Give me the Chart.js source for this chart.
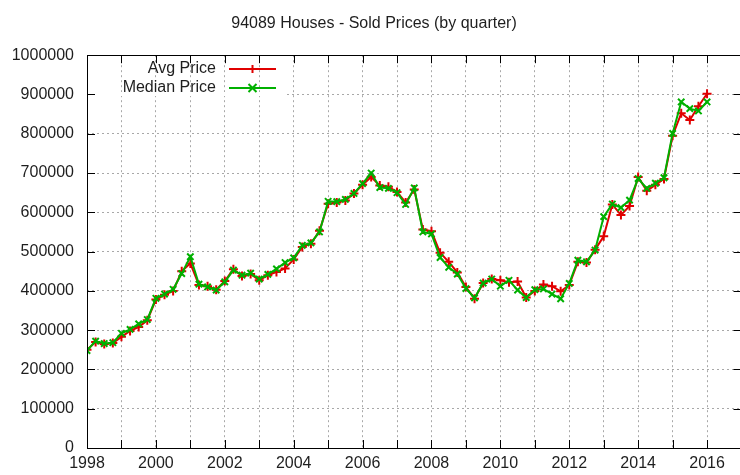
<!DOCTYPE html>
<html>
<head>
<meta charset="utf-8">
<title>94089 Houses - Sold Prices</title>
<script src="https://cdn.jsdelivr.net/npm/chart.js@4.4.1/dist/chart.umd.min.js"></script>
<style>
    html, body { margin: 0; padding: 0; background: #ffffff; overflow: hidden; }
    #wrap { width: 740px; height: 475px; position: relative; overflow: hidden; }
</style>
</head>
<body>
<div id="wrap"><canvas id="priceChart" width="748" height="475"></canvas></div>
<script>
// quarterly sales, first quarter of 1998 through first quarter of 2016
const firstYear = 1998;
const avgPrice = [
    250000, 270000, 265000, 267000, 283000, 298000, 308000, 325000,
    378000, 390000, 400000, 450000, 470000, 415000, 412000, 403000,
    425000, 455000, 438000, 443000, 427000, 440000, 448000, 457000,
    480000, 512000, 520000, 553000, 622000, 625000, 630000, 648000,
    670000, 690000, 668000, 665000, 652000, 625000, 658000, 556000,
    552000, 497000, 474000, 447000, 410000, 380000, 420000, 430000,
    427000, 422000, 424000, 383000, 400000, 416000, 412000, 399000,
    415000, 474000, 472000, 505000, 539000, 620000, 593000, 616000,
    690000, 655000, 670000, 685000, 795000, 852000, 835000, 870000,
    902000
];
const medianPrice = [
    248000, 272000, 266000, 268000, 292000, 302000, 316000, 327000,
    381000, 392000, 404000, 444000, 487000, 417000, 410000, 402000,
    423000, 453000, 440000, 445000, 430000, 442000, 456000, 472000,
    484000, 516000, 522000, 550000, 628000, 627000, 633000, 648000,
    673000, 700000, 663000, 661000, 650000, 620000, 662000, 550000,
    545000, 485000, 460000, 443000, 406000, 382000, 420000, 430000,
    412000, 427000, 402000, 383000, 403000, 405000, 392000, 380000,
    419000, 478000, 474000, 504000, 589000, 621000, 612000, 631000,
    686000, 661000, 674000, 688000, 801000, 881000, 864000, 858000,
    881000
];
const seriesNames = ["Avg Price", "Median Price"];
const xRange = [1998, 2017];
const yTicks = [0, 100000, 200000, 300000, 400000, 500000, 600000, 700000, 800000, 900000, 1000000];

const FONT = "'Liberation Sans', Arial, sans-serif";
const TEXT = "#1e1e1e";
const RED = "#e00000";
const GREEN = "#00b000";

function toPoints(values) {
    return values.map((v, i) => ({ x: firstYear + i / 4, y: v }));
}

function drawMarker(ctx, style, x, y, r) {
    ctx.beginPath();
    if (style === "cross") {
        ctx.moveTo(x - r, y); ctx.lineTo(x + r, y);
        ctx.moveTo(x, y - r); ctx.lineTo(x, y + r);
    } else {
        ctx.moveTo(x - r, y - r); ctx.lineTo(x + r, y + r);
        ctx.moveTo(x - r, y + r); ctx.lineTo(x + r, y - r);
    }
    ctx.stroke();
}

// gnuplot look: frame with mirrored inward ticks and a key inside the plot
const gnuplotFrame = {
    id: "gnuplotFrame",
    beforeDatasetsDraw(chart) {
        const { ctx, chartArea, scales } = chart;
        const y = Math.round(scales.y.getPixelForValue(900000));
        ctx.save();
        ctx.fillStyle = "#ffffff";
        ctx.fillRect(chartArea.left + 1, y - 2, 286 - chartArea.left, 4);
        ctx.restore();
    },
    afterDraw(chart) {
        const { ctx, chartArea, scales } = chart;
        const { left, right, top, bottom } = chartArea;
        const tick = 8;
        ctx.save();
        ctx.strokeStyle = "#000000";
        ctx.lineWidth = 1;
        ctx.strokeRect(Math.round(left) + 0.5, Math.round(top) + 0.5,
            Math.round(right - left) - 1, Math.round(bottom - top));
        ctx.beginPath();
        for (let yr = xRange[0]; yr <= xRange[1]; yr++) {
            const px = Math.round(scales.x.getPixelForValue(yr)) + 0.5;
            ctx.moveTo(px, bottom); ctx.lineTo(px, bottom - tick);
            ctx.moveTo(px, top); ctx.lineTo(px, top + tick);
        }
        yTicks.forEach((v) => {
            const py = Math.round(scales.y.getPixelForValue(v)) + 0.5;
            ctx.moveTo(left, py); ctx.lineTo(left + tick, py);
            ctx.moveTo(right, py); ctx.lineTo(right - tick, py);
        });
        ctx.stroke();

        // key
        const keys = [
            { name: seriesNames[0], color: RED, style: "cross", y: 69 },
            { name: seriesNames[1], color: GREEN, style: "crossRot", y: 88 }
        ];
        ctx.font = "16px " + FONT;
        ctx.textAlign = "right";
        ctx.textBaseline = "middle";
        keys.forEach((k) => {
            ctx.fillStyle = TEXT;
            ctx.fillText(k.name, 216, k.y);
            ctx.strokeStyle = k.color;
            ctx.lineWidth = 2;
            ctx.beginPath();
            ctx.moveTo(229, k.y); ctx.lineTo(276, k.y);
            ctx.stroke();
            drawMarker(ctx, k.style, 252.5, k.y, 4);
        });
        ctx.restore();
    }
};

const ctx = document.getElementById("priceChart");
new Chart(ctx, {
    type: "line",
    data: {
        datasets: [
            {
                label: seriesNames[0],
                data: toPoints(avgPrice),
                borderColor: RED,
                backgroundColor: RED,
                borderWidth: 2,
                pointStyle: "cross",
                pointRadius: 4.5,
                pointBorderWidth: 2,
                pointBorderColor: RED,
                tension: 0,
                order: 1
            },
            {
                label: seriesNames[1],
                data: toPoints(medianPrice),
                borderColor: GREEN,
                backgroundColor: GREEN,
                borderWidth: 2,
                pointStyle: "crossRot",
                pointRadius: 4.5,
                pointBorderWidth: 2,
                pointBorderColor: GREEN,
                tension: 0,
                order: 0
            }
        ]
    },
    options: {
        responsive: false,
        animation: false,
        events: [],
        layout: { padding: { left: 0, right: 0, top: 0, bottom: 0 } },
        plugins: {
            legend: { display: false },
            tooltip: { enabled: false },
            title: {
                display: true,
                text: "94089 Houses - Sold Prices (by quarter)",
                color: TEXT,
                font: { family: FONT, size: 16, weight: "normal" },
                padding: { top: 14, bottom: 22 }
            }
        },
        scales: {
            x: {
                type: "linear",
                min: xRange[0],
                max: xRange[1],
                afterFit: (scale) => { scale.height = 27; },
                grid: { color: "#a8a8a8", lineWidth: 1, drawTicks: false },
                border: { display: false, dash: [2, 3] },
                ticks: {
                    stepSize: 1,
                    autoSkip: false,
                    maxRotation: 0,
                    padding: 6,
                    color: TEXT,
                    font: { family: FONT, size: 16 },
                    callback: (v) => (v % 2 === 0 ? String(v) : "")
                }
            },
            y: {
                min: yTicks[0],
                max: yTicks[yTicks.length - 1],
                afterFit: (scale) => { scale.width = 87; },
                grid: { color: "#a8a8a8", lineWidth: 1, drawTicks: false },
                border: { display: false, dash: [2, 3] },
                ticks: {
                    stepSize: 100000,
                    padding: 13,
                    color: TEXT,
                    font: { family: FONT, size: 16 },
                    callback: (v) => String(v)
                }
            }
        }
    },
    plugins: [gnuplotFrame]
});
</script>
</body>
</html>
